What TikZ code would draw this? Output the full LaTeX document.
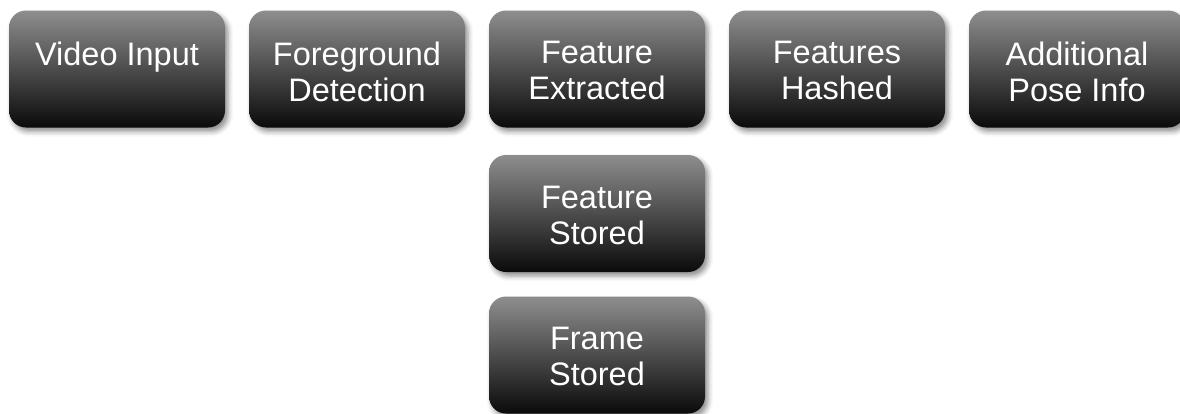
\documentclass[tikz,border=0pt]{standalone}
\usepackage{fontspec}
\setmainfont{Liberation Sans}
\usetikzlibrary{shadows.blur}
\definecolor{boxtop}{HTML}{8E8E8E}
\definecolor{boxbot}{HTML}{0A0A0A}
\tikzset{
  box/.style={rectangle, rounded corners=17pt, minimum width=216pt, minimum height=117pt,
    inner sep=0pt, top color=boxtop, bottom color=boxbot, draw=none,
    blur shadow={shadow xshift=3pt, shadow yshift=-4pt, shadow blur radius=5pt, shadow opacity=45}},
  lbl/.style={text=white, align=center, inner sep=0pt, anchor=north,
    font=\fontsize{32.5}{36}\selectfont}
}
\begin{document}
\begin{tikzpicture}[x=1pt,y=1pt]
\useasboundingbox (0,0) rectangle (1180,-413);
\node[box] (b1) at (117,-69) {};
\node[box] (b2) at (357,-69) {};
\node[box] (b3) at (597,-69) {};
\node[box] (b4) at (837,-69) {};
\node[box] (b5) at (1077,-69) {};
\node[box] (b6) at (597,-213.5) {};
\node[box] (b7) at (597,-355) {};
\node[lbl] (t1) at ([yshift=-31pt]b1.north) {Video Input};
\node[lbl] (t2) at ([yshift=-31pt]b2.north) {Foreground\\Detection};
\node[lbl] (t3) at ([yshift=-31pt]b3.north) {Feature\\Extracted};
\node[lbl] (t4) at ([yshift=-31pt]b4.north) {Features\\Hashed};
\node[lbl] (t5) at ([yshift=-31pt]b5.north) {Additional\\Pose Info};
\node[lbl] (t6) at ([yshift=-31pt]b6.north) {Feature\\Stored};
\node[lbl] (t7) at ([yshift=-31pt]b7.north) {Frame\\Stored};
\end{tikzpicture}
\end{document}
